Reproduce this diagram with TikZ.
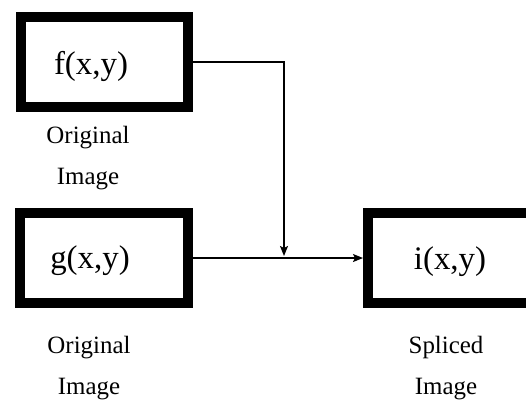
\documentclass[tikz,border=0pt]{standalone}
\usepackage{fontspec}
\setmainfont{Liberation Serif}
\usetikzlibrary{arrows.meta,positioning}

\begin{document}
\begin{tikzpicture}[
  x=1bp, y=-1bp,
  imgbox/.style={draw=black, line width=10bp, minimum width=167bp,
                 minimum height=90bp, inner sep=0pt},
  fn/.style={font=\fontsize{33}{40}\selectfont, inner sep=0pt},
  caption/.style={font=\fontsize{25}{42}\selectfont, align=center, inner sep=0pt},
  flow/.style={-{Stealth[length=10bp, width=8bp, inset=2bp]}, black,
               line width=1.4bp},
]
\clip (0,0) rectangle (526,401);

% ---------------- sources -----------------------------------------------
\node[imgbox] (f) at (104.5, 62) {};
\node[fn] (ftext) at (91, 66) {f(x,y)};
\node[caption] (fcap) at (88, 158) {Original\\Image};

\node[imgbox] (g) at (104, 258) {};
\node[fn] (gtext) at (90, 261) {g(x,y)};
\node[caption] (gcap) at (89, 368) {Original\\Image};

% ---------------- result ------------------------------------------------
\node[imgbox] (i) at (451.5, 258) {};
\node[fn] (itext) at (450, 262) {i(x,y)};
\node[caption] (icap) at (446, 368) {Spliced\\Image};

% ---------------- connectors --------------------------------------------
\coordinate (join) at (284, 256);
\draw[flow] (f.east) -| (join);
\draw[flow] (g.east) -- (i.west);

\end{tikzpicture}
\end{document}
